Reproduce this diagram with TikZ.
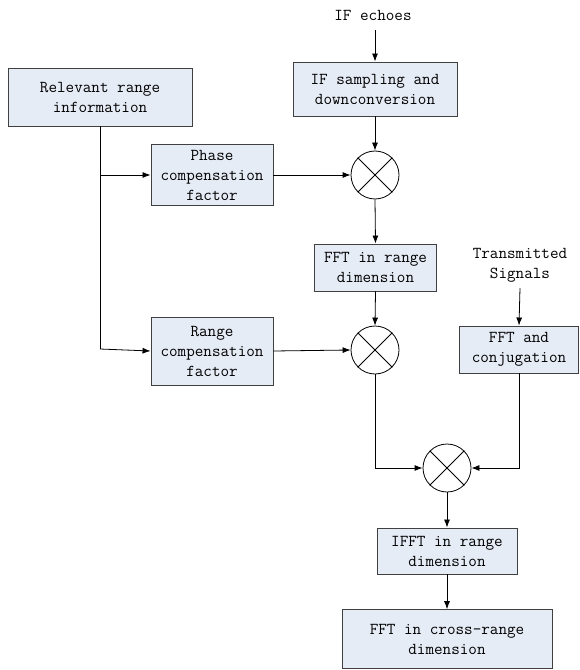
\documentclass[tikz,border=0pt]{standalone}
\usetikzlibrary{arrows.meta}
\begin{document}
\begin{tikzpicture}[x=0.75pt,y=-0.75pt,
  box/.style={draw=black!75,line width=0.7pt,inner sep=0pt,align=center,
    fill={rgb,255:red,230;green,236;blue,246},
    font=\ttfamily\fontsize{12.5}{15}\selectfont},
  lbl/.style={align=center,inner sep=0pt,font=\ttfamily\fontsize{12.5}{15}\selectfont},
  mult/.style={draw,circle,minimum size=36pt,inner sep=0pt,line width=0.6pt},
  arr/.style={-{Latex[length=6pt,width=4.5pt]},line width=0.6pt},
  ln/.style={line width=0.6pt}]
\useasboundingbox (0,0) rectangle (579,670);
% nodes
\node[box,minimum width=138pt,minimum height=43.5pt] (rel) at (100,97) {Relevant range\\information};
\node[lbl] (ife) at (373,15) {IF echoes};
\node[box,minimum width=123pt,minimum height=40.5pt] (ifs) at (375,89) {IF sampling and\\downconversion};
\node[mult] (m1) at (375,175) {};
\node[box,minimum width=91.5pt,minimum height=45.75pt] (pha) at (212,175) {Phase\\compensation\\factor};
\node[box,minimum width=91.5pt,minimum height=35.25pt] (fftr) at (375.5,267.5) {FFT in range\\dimension};
\node[mult] (m2) at (375,350) {};
\node[box,minimum width=91.5pt,minimum height=51pt] (rng) at (212,351) {Range\\compensation\\factor};
\node[lbl] (tx) at (520,265) {Transmitted\\Signals};
\node[box,minimum width=89pt,minimum height=35.25pt] (fftc) at (519,349.5) {FFT and\\conjugation};
\node[mult] (m3) at (447,468) {};
\node[box,minimum width=105pt,minimum height=34.5pt] (ifft) at (447,551) {IFFT in range\\dimension};
\node[box,minimum width=157.5pt,minimum height=44pt] (fftx) at (447,639) {FFT in cross-range\\dimension};
% crosses
\foreach \m in {m1,m2,m3}{
  \draw[ln] (\m.45) -- (\m.225);
  \draw[ln] (\m.135) -- (\m.315);
}
% connectors
\coordinate (j1) at (100,175);
\coordinate (j2) at (100,349);
\coordinate (ifa) at (375,30);
\coordinate (txa) at (520,288);
\draw[ln] (rel.south) -- (j2);
\draw[arr] (j1) -- (pha.west);
\draw[arr] (j2) -- (rng.west);
\draw[arr] (ifa) -- (ifs.north);
\draw[arr] (ifs.south) -- (m1.north);
\draw[arr] (pha.east) -- (m1.west);
\draw[arr] (m1.south) -- (fftr.north);
\draw[arr] (fftr.south) -- (m2.north);
\draw[arr] (rng.east) -- (m2.west);
\draw[arr] (txa) -- (fftc.north);
\draw[arr] (m2.south) |- (m3.west);
\draw[arr] (fftc.south) |- (m3.east);
\draw[arr] (m3.south) -- (ifft.north);
\draw[arr] (ifft.south) -- (fftx.north);
\end{tikzpicture}
\end{document}
